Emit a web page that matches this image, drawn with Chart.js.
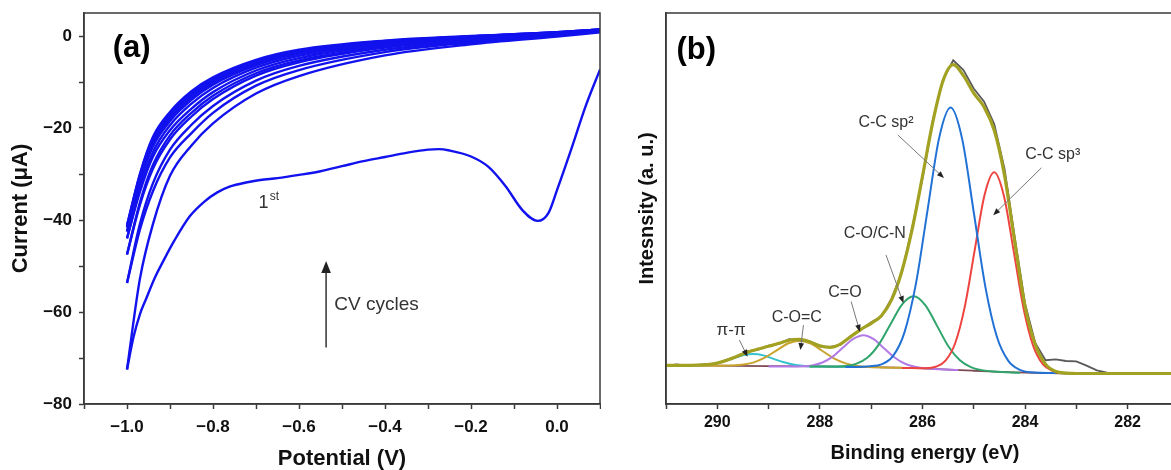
<!DOCTYPE html>
<html>
<head>
<meta charset="utf-8">
<script src="https://cdn.jsdelivr.net/npm/chart.js@4.4.1/dist/chart.umd.min.js"></script>
<style>
  html, body { margin: 0; padding: 0; background: #fff; overflow: hidden; width: 1171px; height: 470px; }
  .panel { position: absolute; top: 0; }
  #cvBox { left: 0; }
  #xpsBox { left: 600px; }
</style>
</head>
<body>
<div class="panel" id="cvBox"><canvas id="cvChart" width="601" height="470"></canvas></div>
<div class="panel" id="xpsBox"><canvas id="xpsChart" width="584" height="470"></canvas></div>
<script>
// ---- panel (a): CV cycles ----
// first cathodic sweep (lower curve with the reduction peak)
const fwd1E = [-1.0, -0.985, -0.97, -0.955, -0.935, -0.916, -0.89, -0.854, -0.82, -0.79, -0.76, -0.72, -0.69, -0.65, -0.6, -0.55, -0.5, -0.45, -0.4, -0.35, -0.3, -0.275, -0.25, -0.2, -0.16, -0.12, -0.08, -0.045, -0.02, 0.0, 0.035, 0.066, 0.1];
const fwd1I = [-72.5, -65.5, -60.5, -57.0, -52.5, -49.0, -44.5, -39.2, -36.0, -34.0, -32.7, -31.8, -31.3, -30.9, -30.2, -29.4, -28.3, -27.2, -26.3, -25.4, -24.7, -24.6, -24.9, -26.2, -28.4, -32.6, -37.9, -40.2, -38.5, -33.5, -24.1, -15.4, -7.3];

// potentials shared by the later branches
const cvE = [-1.0, -0.97, -0.94, -0.9, -0.85, -0.8, -0.7, -0.6, -0.4, -0.2, 0.0, 0.1];
const ret1 = [-72.5, -52.8, -41.0, -30.4, -23.8, -19.0, -12.5, -8.7, -4.2, -1.8, -0.1, 0.8];
const fwd2 = [-53.7, -42.1, -33.8, -26.4, -21.1, -16.7, -10.8, -7.4, -3.5, -1.4, 0.1, 0.9];
const ret2 = [-53.7, -40.9, -32.1, -24.7, -19.3, -15.2, -9.7, -6.5, -3.0, -1.1, 0.2, 1.0];
const fwd3 = [-47.5, -36.7, -28.9, -22.5, -17.5, -13.7, -8.6, -5.7, -2.5, -0.8, 0.4, 1.1];
const ret3 = [-47.5, -36.2, -28.1, -21.6, -16.7, -13.0, -8.1, -5.3, -2.3, -0.7, 0.4, 1.2];
const fwd4 = [-44.0, -33.9, -26.3, -20.5, -15.8, -12.2, -7.5, -4.8, -2.0, -0.6, 0.5, 1.2];
const ret4 = [-44.0, -33.2, -25.3, -19.4, -14.7, -11.3, -6.9, -4.3, -1.7, -0.4, 0.6, 1.3];
const fwd5 = [-42.5, -31.9, -24.1, -18.5, -13.9, -10.6, -6.4, -3.9, -1.5, -0.3, 0.7, 1.3];
const ret5 = [-42.5, -31.6, -23.7, -18.0, -13.4, -10.2, -6.1, -3.7, -1.4, -0.2, 0.7, 1.3];
const fwd6 = [-41.6, -30.8, -23.0, -17.5, -12.9, -9.8, -5.8, -3.5, -1.3, -0.1, 0.7, 1.4];
const ret6 = [-41.6, -30.6, -22.7, -17.1, -12.6, -9.5, -5.6, -3.3, -1.2, -0.1, 0.8, 1.4];
const fwd7 = [-41.2, -30.2, -22.3, -16.9, -12.4, -9.3, -5.4, -3.2, -1.1, -0.1, 0.8, 1.4];
const ret7 = [-41.2, -30.0, -22.0, -16.5, -12.0, -9.0, -5.2, -3.0, -1.0, 0.0, 0.8, 1.4];

// ---- panel (b): C 1s XPS ----
const envE = [291.0, 290.8, 290.6, 290.4, 290.2, 290.0, 289.8, 289.6, 289.4, 289.2, 289.0, 288.8, 288.6, 288.4, 288.2, 288.0, 287.8, 287.6, 287.4, 287.2, 287.0, 286.8, 286.6, 286.4, 286.2, 286.0, 285.8, 285.6, 285.4, 285.2, 285.0, 284.8, 284.6, 284.4, 284.2, 284.0, 283.8, 283.6, 283.4, 283.2, 283.0, 282.8, 282.6, 282.4, 282.2, 282.0, 281.8, 281.6, 281.4, 281.2, 281.0];
const envI = [9.9, 9.9, 9.87, 9.92, 10.05, 10.48, 11.27, 12.28, 13.31, 14.06, 14.75, 15.52, 16.31, 16.51, 15.91, 14.88, 14.48, 15.33, 17.21, 19.1, 20.63, 22.59, 26.69, 34.03, 44.72, 58.17, 71.95, 82.6, 86.8, 84.0, 79.5, 76.0, 70.0, 58.5, 41.5, 25.0, 15.2, 10.2, 8.3, 7.9, 7.8, 7.8, 7.8, 7.8, 7.8, 7.8, 7.8, 7.8, 7.8, 7.8, 7.8];
const rawI = [9.7, 10.1, 9.8, 10.0, 10.2, 10.4, 11.4, 12.1, 13.5, 13.9, 14.9, 15.4, 16.6, 16.3, 16.0, 14.7, 14.6, 15.1, 17.4, 18.9, 20.9, 22.4, 27.0, 33.7, 45.1, 57.6, 72.4, 82.9, 87.9, 85.4, 80.7, 77.4, 71.6, 60.2, 42.6, 25.7, 15.6, 11.2, 11.4, 11.0, 10.9, 9.8, 8.6, 8.0, 7.9, 7.7, 7.9, 7.8, 7.7, 7.9, 7.8];

const sp2E = [287.5, 287.025, 286.8, 286.575, 286.35, 286.125, 285.9, 285.675, 285.45, 285.225, 285.0, 284.775, 284.55, 284.325, 284.1, 283.875, 283.4];
const sp2I = [9.45, 9.65, 10.14, 12.24, 18.32, 30.9, 49.6, 68.0, 75.8, 67.75, 49.1, 30.1, 17.27, 11.04, 8.74, 8.1, 7.9];
const sp3E = [286.4, 285.93, 285.74, 285.55, 285.36, 285.17, 284.98, 284.79, 284.6, 284.41, 284.22, 284.03, 283.84, 283.65, 283.46, 283.27, 282.8];
const sp3I = [9.2, 9.16, 9.52, 11.09, 15.6, 25.16, 39.43, 53.4, 59.25, 53.15, 39.03, 24.56, 14.85, 10.14, 8.47, 7.96, 7.8];
const coE = [288.2, 287.745, 287.52, 287.295, 287.07, 286.845, 286.62, 286.395, 286.17, 285.945, 285.72, 285.495, 285.27, 285.045, 284.82, 284.595, 284.1];
const coI = [9.6, 9.59, 9.7, 10.26, 11.89, 15.32, 20.46, 25.49, 27.55, 25.29, 20.11, 14.77, 11.19, 9.36, 8.6, 8.29, 8.0];
const cdoE = [289.0, 288.55, 288.35, 288.15, 287.95, 287.75, 287.55, 287.35, 287.15, 286.95, 286.75, 286.55, 286.35, 286.15, 285.95, 285.75, 285.3];
const cdoI = [9.6, 9.57, 9.64, 9.86, 10.61, 12.11, 14.42, 16.64, 17.6, 16.59, 14.27, 11.96, 10.36, 9.51, 9.14, 8.97, 8.7];
const cocE = [290.4, 289.975, 289.75, 289.525, 289.3, 289.075, 288.85, 288.625, 288.4, 288.175, 287.95, 287.725, 287.5, 287.275, 287.05, 286.825, 286.4];
const cocI = [9.85, 9.81, 9.82, 10.04, 10.59, 11.84, 13.65, 15.47, 16.2, 15.42, 13.55, 11.69, 10.39, 9.74, 9.47, 9.36, 9.25];
const piE = [291.0, 290.7, 290.5, 290.3, 290.1, 289.9, 289.7, 289.5, 289.3, 289.1, 288.9, 288.7, 288.5, 288.3, 288.1, 287.9, 287.5];
const piI = [9.9, 9.91, 9.88, 9.99, 10.22, 10.81, 11.63, 12.49, 12.8, 12.44, 11.53, 10.66, 10.02, 9.74, 9.58, 9.56, 9.5];
const bgE = [291, 290, 289, 288, 287, 286.5, 286, 285.5, 285, 284.5, 284, 283.5, 283, 281];
const bgI = [9.9, 9.8, 9.7, 9.6, 9.45, 9.3, 9.1, 8.8, 8.5, 8.2, 8.0, 7.9, 7.8, 7.8];

const FONT = "'Liberation Sans', Arial, sans-serif";
const AXIS = '#3a3a3a';
const TXT = '#111';
const MINUS = '\u2212';

const toPts = (xs, ys) => xs.map((v, i) => ({ x: v, y: ys[i] }));

// fixed axis box size, no extra label padding so the plot area lands where the figure has it
const fixBox = (w, h) => s => {
  if (w !== null) s.width = w;
  if (h !== null) s.height = h;
  s.paddingTop = 0; s.paddingBottom = 0; s.paddingLeft = 0; s.paddingRight = 0;
};

// frame + text labels + arrows, positioned in data units
const panelDecor = {
  id: 'panelDecor',
  afterDatasetsDraw(chart, args, opts) {
    const { ctx, chartArea: a } = chart;
    const sx = chart.scales.x, sy = chart.scales.y;
    ctx.save();
    ctx.strokeStyle = AXIS;
    ctx.lineWidth = 1.5;
    ctx.strokeRect(a.left, a.top, a.right - a.left, a.bottom - a.top);
    (opts.arrows || []).forEach(ar => {
      const x1 = sx.getPixelForValue(ar.from[0]), y1 = sy.getPixelForValue(ar.from[1]);
      const x2 = sx.getPixelForValue(ar.to[0]), y2 = sy.getPixelForValue(ar.to[1]);
      const ang = Math.atan2(y2 - y1, x2 - x1);
      const L = ar.head, W = ar.head * 0.4;
      ctx.strokeStyle = ar.color;
      ctx.lineWidth = ar.width;
      ctx.beginPath();
      ctx.moveTo(x1, y1);
      ctx.lineTo(x2 - L * 0.6 * Math.cos(ang), y2 - L * 0.6 * Math.sin(ang));
      ctx.stroke();
      ctx.fillStyle = ar.headColor;
      ctx.beginPath();
      ctx.moveTo(x2, y2);
      ctx.lineTo(x2 - L * Math.cos(ang) + W * Math.sin(ang), y2 - L * Math.sin(ang) - W * Math.cos(ang));
      ctx.lineTo(x2 - L * Math.cos(ang) - W * Math.sin(ang), y2 - L * Math.sin(ang) + W * Math.cos(ang));
      ctx.closePath();
      ctx.fill();
    });
    (opts.labels || []).forEach(lb => {
      ctx.font = lb.font;
      ctx.fillStyle = lb.color || '#333';
      ctx.textAlign = lb.align || 'center';
      ctx.textBaseline = lb.baseline || 'middle';
      ctx.fillText(lb.text, sx.getPixelForValue(lb.at[0]), sy.getPixelForValue(lb.at[1]));
    });
    ctx.restore();
  }
};

const common = {
  responsive: false,
  animation: false,
  events: [],
  plugins: { legend: { display: false }, tooltip: { enabled: false } }
};

// ---------- chart (a) ----------
const cvLine = { borderColor: '#1212ee', borderWidth: 2.4, pointRadius: 0, showLine: true, fill: false, cubicInterpolationMode: 'monotone' };
const cvBranches = [ret1, fwd2, ret2, fwd3, ret3, fwd4, ret4, fwd5, ret5, fwd6, ret6, fwd7, ret7];

new Chart(document.getElementById('cvChart'), {
  type: 'scatter',
  data: {
    datasets: [
      { ...cvLine, data: toPts(fwd1E, fwd1I) },
      ...cvBranches.map(b => ({ ...cvLine, data: toPts(cvE, b) }))
    ]
  },
  options: {
    ...common,
    layout: { padding: { top: 13, right: 1, left: 0, bottom: 0 } },
    scales: {
      x: {
        type: 'linear', min: -1.1, max: 0.1,
        afterFit: fixBox(null, 66),
        border: { color: AXIS, width: 1.5 },
        grid: { drawOnChartArea: false, tickLength: 5, tickColor: AXIS, tickWidth: 1.5 },
        ticks: {
          stepSize: 0.1, autoSkip: false, maxRotation: 0, padding: 8, color: TXT,
          font: { family: FONT, size: 17, weight: 'bold' },
          callback: v => {
            const k = Math.round(v * 10);
            if (k % 2 !== 0) return '';
            const t = Math.abs(k / 10).toFixed(1);
            return k < 0 ? MINUS + t : t;
          }
        },
        title: { display: true, text: 'Potential (V)', color: TXT, font: { family: FONT, size: 22, weight: 'bold', lineHeight: 1 }, padding: { top: 0, bottom: 0 } }
      },
      y: {
        type: 'linear', min: -80, max: 5,
        afterFit: fixBox(84, null),
        border: { color: AXIS, width: 1.5 },
        grid: { drawOnChartArea: false, tickLength: 5, tickColor: AXIS, tickWidth: 1.5 },
        ticks: {
          stepSize: 10, includeBounds: false, autoSkip: false, padding: 7, color: TXT,
          font: { family: FONT, size: 17, weight: 'bold' },
          callback: v => {
            const k = Math.round(v);
            if (k % 20 !== 0) return '';
            return k < 0 ? MINUS + Math.abs(k) : String(k);
          }
        },
        title: { display: true, text: 'Current (\u03bcA)', color: TXT, font: { family: FONT, size: 22, weight: 'bold', lineHeight: 1 }, padding: { top: 10, bottom: 0 } }
      }
    },
    plugins: {
      ...common.plugins,
      panelDecor: {
        labels: [
          { text: '(a)', at: [-0.989, -2.7], font: 'bold 31px ' + FONT, color: '#000' },
          { text: '1', at: [-0.694, -37.4], font: '18px ' + FONT, align: 'left', baseline: 'alphabetic' },
          { text: 'st', at: [-0.668, -35.7], font: '12px ' + FONT, align: 'left', baseline: 'alphabetic' },
          { text: 'CV cycles', at: [-0.518, -59.6], font: '19px ' + FONT, align: 'left', baseline: 'alphabetic' }
        ],
        arrows: [
          { from: [-0.537, -67.7], to: [-0.537, -48.9], color: '#333', headColor: '#222', width: 1.5, head: 12 }
        ]
      }
    }
  },
  plugins: [panelDecor]
});

// ---------- chart (b) ----------
const peak = (color, w) => ({ borderColor: color, borderWidth: w, pointRadius: 0, showLine: true, fill: false, cubicInterpolationMode: 'monotone' });

new Chart(document.getElementById('xpsChart'), {
  type: 'scatter',
  data: {
    datasets: [
      { ...peak('#a2a122', 3.2), data: toPts(envE, envI) },
      { ...peak('#5a5a5a', 1.8), cubicInterpolationMode: 'default', tension: 0, data: toPts(envE, rawI) },
      { ...peak('#2272d6', 2), data: toPts(sp2E, sp2I) },
      { ...peak('#ee4440', 2), data: toPts(sp3E, sp3I) },
      { ...peak('#2fa56b', 2), data: toPts(coE, coI) },
      { ...peak('#b27ae6', 2), data: toPts(cdoE, cdoI) },
      { ...peak('#c9a32c', 2), data: toPts(cocE, cocI) },
      { ...peak('#33c3cf', 2), data: toPts(piE, piI) },
      { ...peak('#7d4a56', 1.8), data: toPts(bgE, bgI) }
    ]
  },
  options: {
    ...common,
    layout: { padding: { top: 13, right: 0, left: 0, bottom: 0 } },
    scales: {
      x: {
        type: 'linear', min: 280.9, max: 291, reverse: true,
        afterFit: fixBox(null, 66),
        border: { color: AXIS, width: 1.5 },
        grid: { drawOnChartArea: false, tickLength: 5, tickColor: AXIS, tickWidth: 1.5 },
        ticks: {
          stepSize: 1, includeBounds: false, autoSkip: false, maxRotation: 0, padding: 4, color: TXT,
          font: { family: FONT, size: 16, weight: 'bold' },
          callback: v => (Math.round(v) % 2 === 0 ? String(Math.round(v)) : '')
        },
        title: { display: true, text: 'Binding energy (eV)', color: TXT, font: { family: FONT, size: 20, weight: 'bold', lineHeight: 1 }, padding: { top: 0, bottom: 7 } }
      },
      y: {
        type: 'linear', min: 0, max: 100,
        afterFit: fixBox(66, null),
        border: { color: AXIS, width: 1.5 },
        grid: { drawOnChartArea: false, drawTicks: false },
        ticks: { display: false },
        title: { display: true, text: 'Intesnsity (a. u.)', color: TXT, font: { family: FONT, size: 20, weight: 'bold', lineHeight: 1 }, padding: { top: 37, bottom: 0 } }
      }
    },
    plugins: {
      ...common.plugins,
      panelDecor: {
        labels: [
          { text: '(b)', at: [290.41, 90.5], font: 'bold 31px ' + FONT, color: '#000' },
          { text: '\u03c0-\u03c0', at: [289.73, 18.9], font: '17px ' + FONT },
          { text: 'C-O=C', at: [288.45, 22.0], font: '16px ' + FONT },
          { text: 'C=O', at: [287.51, 28.4], font: '16px ' + FONT },
          { text: 'C-O/C-N', at: [286.93, 43.7], font: '16px ' + FONT },
          { text: 'C-C sp\u00b2', at: [286.71, 71.9], font: '16px ' + FONT },
          { text: 'C-C sp\u00b3', at: [283.46, 63.7], font: '16px ' + FONT }
        ],
        arrows: [
          { from: [289.57, 16.4], to: [289.41, 12.1], color: '#777', headColor: '#222', width: 1, head: 7 },
          { from: [288.32, 20.2], to: [288.38, 13.8], color: '#777', headColor: '#222', width: 1, head: 7 },
          { from: [287.39, 26.2], to: [287.22, 18.5], color: '#777', headColor: '#222', width: 1, head: 7 },
          { from: [286.71, 38.1], to: [286.37, 25.8], color: '#777', headColor: '#222', width: 1, head: 7 },
          { from: [286.48, 68.8], to: [285.58, 57.8], color: '#777', headColor: '#222', width: 1, head: 7 },
          { from: [283.68, 60.4], to: [284.62, 48.3], color: '#777', headColor: '#222', width: 1, head: 7 }
        ]
      }
    }
  },
  plugins: [panelDecor]
});
</script>
</body>
</html>
